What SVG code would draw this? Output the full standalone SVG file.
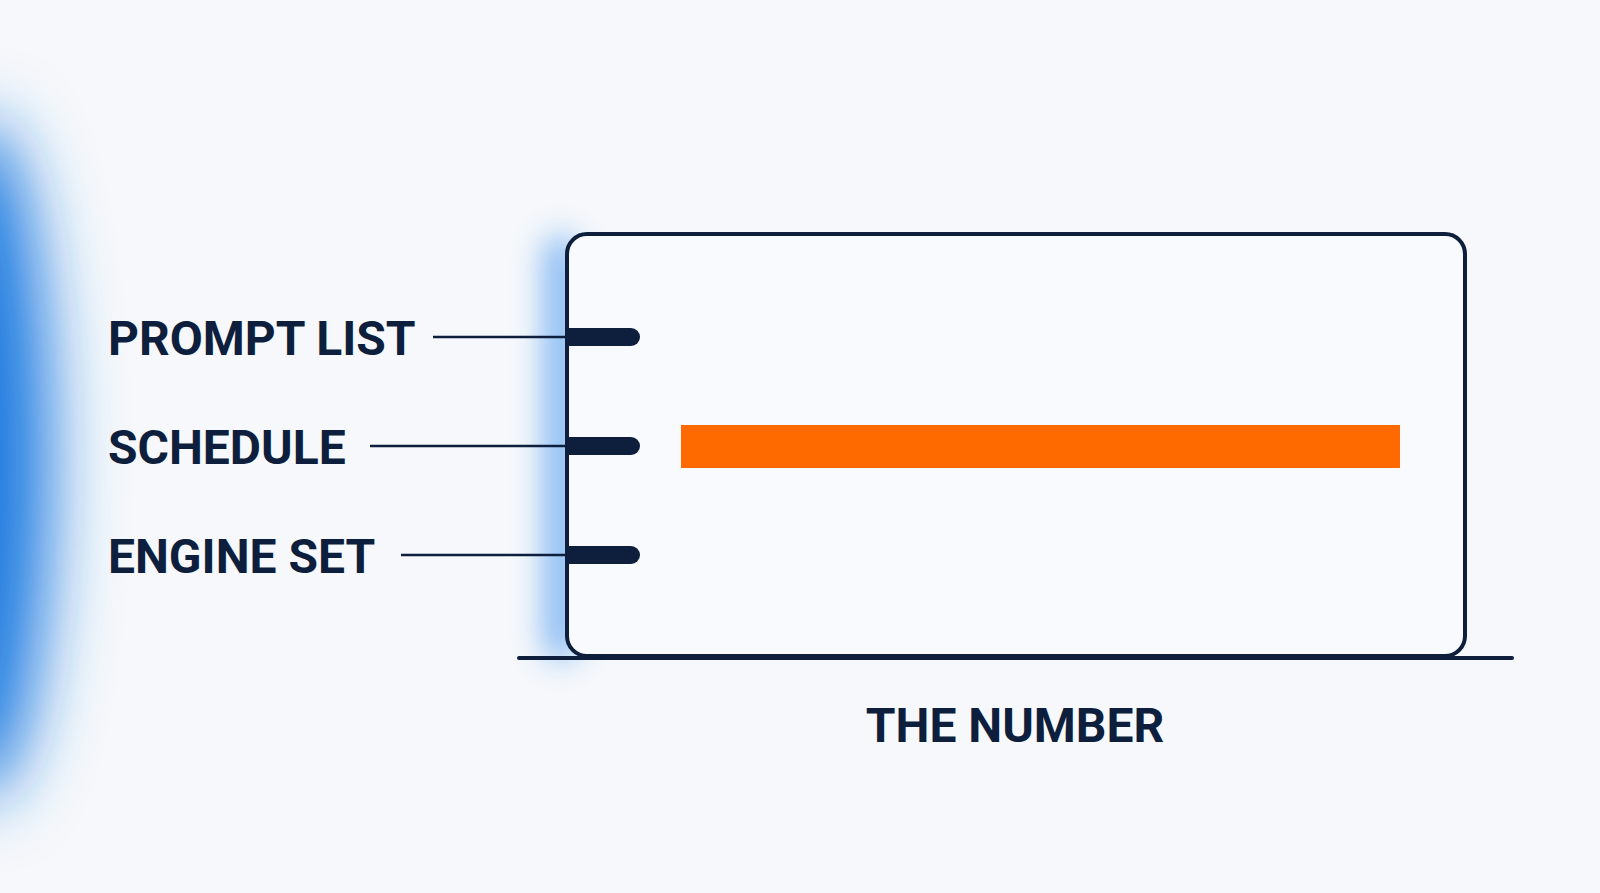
<svg xmlns="http://www.w3.org/2000/svg" width="1600" height="893" viewBox="0 0 1600 893">
<defs>
<filter id="blur" x="-300%" y="-50%" width="700%" height="200%"><feGaussianBlur stdDeviation="34"/></filter>
<filter id="blur2" x="-200%" y="-50%" width="500%" height="200%"><feGaussianBlur stdDeviation="16"/></filter>
<style>
.lbl{font-family:Roboto,"Liberation Sans",sans-serif;font-weight:bold;font-size:48px;fill:#0d1f3c}
.ln{stroke:#0d1f3c;stroke-width:2.5}
.tab{fill:#0d1f3c}
</style>
</defs>
<rect width="1600" height="893" fill="#f6f8fb"/>
<ellipse cx="-20" cy="460" rx="70" ry="340" fill="#1f7ae0" filter="url(#blur)"/>
<rect x="546" y="236" width="30" height="424" rx="15" fill="#4a97ef" opacity="0.75" filter="url(#blur2)"/>
<g id="box">
<rect x="567" y="234" width="898" height="422" rx="20" fill="#f8fafd" stroke="#0d1f3c" stroke-width="4"/>
<line x1="519" y1="658" x2="1512" y2="658" stroke="#0d1f3c" stroke-width="4" stroke-linecap="round"/>
</g>
<g id="connectors">
<line class="ln" x1="433" y1="337" x2="567" y2="337"/>
<line class="ln" x1="370" y1="446" x2="567" y2="446"/>
<line class="ln" x1="401" y1="555" x2="567" y2="555"/>
</g>
<g id="tabs">
<path class="tab" d="M569 328 H631 a9 9 0 0 1 0 18 H569 Z"/>
<path class="tab" d="M569 437 H631 a9 9 0 0 1 0 18 H569 Z"/>
<path class="tab" d="M569 546 H631 a9 9 0 0 1 0 18 H569 Z"/>
</g>
<g id="prompt-list"><text class="lbl" x="108" y="355">PROMPT LIST</text></g>
<g id="schedule"><text class="lbl" x="108" y="464">SCHEDULE</text></g>
<g id="engine-set"><text class="lbl" x="108" y="573">ENGINE SET</text></g>
<g id="bar"><rect x="681" y="425" width="719" height="43" fill="#ff6a00"/></g>
<g id="the-number"><text class="lbl" x="1015" y="742" text-anchor="middle">THE NUMBER</text></g>
</svg>
